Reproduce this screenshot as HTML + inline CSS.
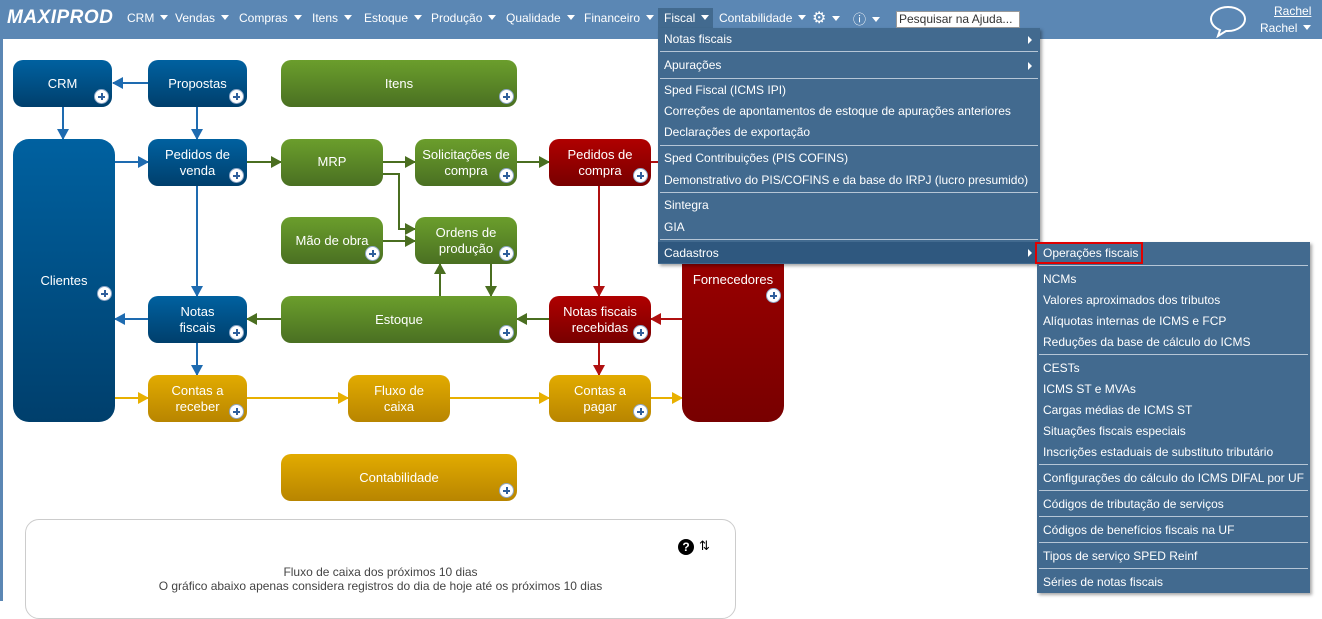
<!DOCTYPE html>
<html><head><meta charset="utf-8">
<style>
*{margin:0;padding:0;box-sizing:border-box}
body{width:1322px;height:601px;overflow:hidden;background:#fff;font-family:"Liberation Sans",sans-serif;position:relative}
.nav{position:absolute;left:0;top:0;width:1322px;height:39px;background:#5b87b4}
.strip{position:absolute;left:0;top:39px;width:3px;height:562px;background:#5b87b4}
.logo{position:absolute;left:7px;top:7px;color:#fff;font:italic bold 19px "Liberation Sans",sans-serif;letter-spacing:0.5px}
.ni{position:absolute;top:11px;color:#fff;font-size:12px;white-space:nowrap}
.ni:after{content:"";display:inline-block;margin-left:6px;border-left:4px solid transparent;border-right:4px solid transparent;border-top:5px solid #fff;vertical-align:2px}
.b{position:absolute;border-radius:10px;color:#fff;font-size:13px;text-align:center;display:flex;align-items:center;justify-content:center;line-height:16px}
.bl{background:linear-gradient(#0061a0,#003f6c)}
.gr{background:linear-gradient(#6b9e2c,#4a7022)}
.rd{background:linear-gradient(#b00000,#780000)}
.or{background:linear-gradient(#e2ab00,#b88500)}
.p{position:absolute;right:3px;bottom:3px;width:15px;height:15px;border-radius:50%;background:#fff;border:1px solid #8fa8c8}
.p:before{content:"";position:absolute;left:3px;top:6px;width:7px;height:2px;background:#2f5f9c}
.p:after{content:"";position:absolute;left:6px;top:3px;width:2px;height:7px;background:#2f5f9c}
.menu{position:absolute;background:#426a8f;box-shadow:2px 2px 3px rgba(0,0,0,.35)}
.mi{position:absolute;left:6px;color:#fff;font-size:12px;white-space:nowrap;line-height:16px}
.sep{position:absolute;left:2px;right:2px;height:1px;background:#b6c6d6}
.arr{position:absolute;right:8px;width:0;height:0;border-top:4px solid transparent;border-bottom:4px solid transparent;border-left:4px solid #fff}
</style></head><body>
<div class="nav"></div>
<div class="strip"></div>
<div class="logo">MAXIPROD</div>
<div class="ni" style="left:127px">CRM</div>
<div class="ni" style="left:175px">Vendas</div>
<div class="ni" style="left:239px">Compras</div>
<div class="ni" style="left:312px">Itens</div>
<div class="ni" style="left:364px">Estoque</div>
<div class="ni" style="left:431px">Produção</div>
<div class="ni" style="left:506px">Qualidade</div>
<div class="ni" style="left:584px">Financeiro</div>
<div style="position:absolute;left:658px;top:8px;width:55px;height:21px;background:#426a8f"></div>
<div class="ni" style="left:664px">Fiscal</div>
<div class="ni" style="left:719px">Contabilidade</div>
<div class="ni" style="left:812px;font-size:16px;top:8px">⚙</div>
<div class="ni" style="left:853px;font-size:13px;top:9px">ⓘ</div>
<div style="position:absolute;left:896px;top:11px;width:124px;height:17px;background:#fff;border:1px solid #999;font-size:12px;color:#333;padding-left:2px;line-height:15px">Pesquisar na Ajuda...</div>
<svg style="position:absolute;left:1208px;top:4px" width="40" height="34"><path d="M20 3C10 3 3 9 3 15c0 5 4 9 9 11l-2 6 8-5c1 0 2 0 2 0 10 0 17-6 17-12S30 3 20 3z" fill="none" stroke="#fff" stroke-width="2"/></svg>
<div style="position:absolute;left:1274px;top:4px;color:#fff;font-size:12px;text-decoration:underline">Rachel</div>
<div class="ni" style="left:1260px;top:21px">Rachel</div>

<svg style="position:absolute;left:0;top:0" width="1322" height="601">
<defs>
<marker id="mb" markerWidth="11" markerHeight="12" refX="10" refY="6" orient="auto" markerUnits="userSpaceOnUse"><path d="M0,0 L11,6 L0,12z" fill="#1e6bb0"/></marker>
<marker id="mg" markerWidth="11" markerHeight="12" refX="10" refY="6" orient="auto" markerUnits="userSpaceOnUse"><path d="M0,0 L11,6 L0,12z" fill="#4a6e20"/></marker>
<marker id="mr" markerWidth="11" markerHeight="12" refX="10" refY="6" orient="auto" markerUnits="userSpaceOnUse"><path d="M0,0 L11,6 L0,12z" fill="#b01010"/></marker>
<marker id="mo" markerWidth="11" markerHeight="12" refX="10" refY="6" orient="auto" markerUnits="userSpaceOnUse"><path d="M0,0 L11,6 L0,12z" fill="#e8b000"/></marker>
</defs>
<g stroke="#1e6bb0" stroke-width="2" fill="none" marker-end="url(#mb)">
<path d="M148 83H113"/><path d="M63 107V139"/><path d="M197 107V139"/><path d="M115 162H148"/><path d="M197 186V296"/><path d="M148 319H115"/><path d="M197 343V375"/>
</g>
<g stroke="#4a6e20" stroke-width="2" fill="none" marker-end="url(#mg)">
<path d="M247 162H281"/><path d="M383 162H415"/><path d="M517 162H549"/><path d="M383 174H399V229H415"/><path d="M383 241H415"/><path d="M440 296V264"/><path d="M491 264V296"/><path d="M281 319H247"/><path d="M549 319H517"/>
</g>
<g stroke="#b01010" stroke-width="2" fill="none">
<path d="M651 162H682"/>
<path d="M599 186V296" marker-end="url(#mr)"/><path d="M682 319H651" marker-end="url(#mr)"/><path d="M599 343V375" marker-end="url(#mr)"/>
</g>
<g stroke="#e8b000" stroke-width="2" fill="none" marker-end="url(#mo)">
<path d="M115 398H148"/><path d="M247 398H348"/><path d="M450 398H549"/><path d="M651 398H682"/>
</g>
</svg>

<div class="b bl" style="left:13px;top:60px;width:99px;height:47px">CRM<i class="p"></i></div>
<div class="b bl" style="left:148px;top:60px;width:99px;height:47px">Propostas<i class="p"></i></div>
<div class="b gr" style="left:281px;top:60px;width:236px;height:47px">Itens<i class="p"></i></div>
<div class="b bl" style="left:13px;top:139px;width:102px;height:283px;border-radius:16px">Clientes<i class="p" style="bottom:121px"></i></div>
<div class="b bl" style="left:148px;top:139px;width:99px;height:47px">Pedidos de<br>venda<i class="p"></i></div>
<div class="b gr" style="left:281px;top:139px;width:102px;height:47px;padding-bottom:2px">MRP</div>
<div class="b gr" style="left:415px;top:139px;width:102px;height:47px">Solicitações de<br>compra<i class="p"></i></div>
<div class="b rd" style="left:549px;top:139px;width:102px;height:47px">Pedidos de<br>compra<i class="p"></i></div>
<div class="b gr" style="left:281px;top:217px;width:102px;height:47px">Mão de obra<i class="p"></i></div>
<div class="b gr" style="left:415px;top:217px;width:102px;height:47px">Ordens de<br>produção<i class="p"></i></div>
<div class="b rd" style="left:682px;top:139px;width:102px;height:283px;border-radius:16px;align-items:flex-start;padding-top:133px">Fornecedores<i class="p" style="bottom:119px"></i></div>
<div class="b bl" style="left:148px;top:296px;width:99px;height:47px">Notas<br>fiscais<i class="p"></i></div>
<div class="b gr" style="left:281px;top:296px;width:236px;height:47px">Estoque<i class="p"></i></div>
<div class="b rd" style="left:549px;top:296px;width:102px;height:47px">Notas fiscais<br>recebidas<i class="p"></i></div>
<div class="b or" style="left:148px;top:375px;width:99px;height:47px">Contas a<br>receber<i class="p"></i></div>
<div class="b or" style="left:348px;top:375px;width:102px;height:47px">Fluxo de<br>caixa</div>
<div class="b or" style="left:549px;top:375px;width:102px;height:47px">Contas a<br>pagar<i class="p"></i></div>
<div class="b or" style="left:281px;top:454px;width:236px;height:47px">Contabilidade<i class="p"></i></div>

<div style="position:absolute;left:25px;top:519px;width:711px;height:100px;border:1px solid #ccc;border-radius:14px"></div>
<div style="position:absolute;left:678px;top:539px;width:16px;height:16px;border-radius:50%;background:#000;color:#fff;font:bold 12px/16px 'Liberation Sans',sans-serif;text-align:center">?</div>
<div style="position:absolute;left:699px;top:538px;font-size:13px;color:#000">⇅</div>
<div style="position:absolute;left:25px;top:565px;width:711px;text-align:center;color:#444;font-size:12px;line-height:14px">Fluxo de caixa dos próximos 10 dias<br>O gráfico abaixo apenas considera registros do dia de hoje até os próximos 10 dias</div>

<div class="menu" style="left:658px;top:28px;width:382px;height:236px">
<div class="mi" style="top:3px">Notas fiscais</div><i class="arr" style="top:8px"></i>
<div class="sep" style="top:23px"></div>
<div class="mi" style="top:29px">Apurações</div><i class="arr" style="top:34px"></i>
<div class="sep" style="top:50px"></div>
<div class="mi" style="top:54px">Sped Fiscal (ICMS IPI)</div>
<div class="mi" style="top:75px">Correções de apontamentos de estoque de apurações anteriores</div>
<div class="mi" style="top:96px">Declarações de exportação</div>
<div class="sep" style="top:117px"></div>
<div class="mi" style="top:122px">Sped Contribuições (PIS COFINS)</div>
<div class="mi" style="top:144px">Demonstrativo do PIS/COFINS e da base do IRPJ (lucro presumido)</div>
<div class="sep" style="top:164px"></div>
<div class="mi" style="top:169px">Sintegra</div>
<div class="mi" style="top:191px">GIA</div>
<div class="sep" style="top:211px"></div>
<div style="position:absolute;left:0;top:214px;width:382px;height:21px;background:#2f587f"></div>
<div class="mi" style="top:217px">Cadastros</div><i class="arr" style="top:221px"></i>
</div>

<div class="menu" style="left:1037px;top:242px;width:273px;height:351px">
<div class="sep" style="top:23px"></div>
<div class="mi" style="top:29px">NCMs</div>
<div class="mi" style="top:50px">Valores aproximados dos tributos</div>
<div class="mi" style="top:71px">Alíquotas internas de ICMS e FCP</div>
<div class="mi" style="top:92px">Reduções da base de cálculo do ICMS</div>
<div class="sep" style="top:112px"></div>
<div class="mi" style="top:118px">CESTs</div>
<div class="mi" style="top:139px">ICMS ST e MVAs</div>
<div class="mi" style="top:160px">Cargas médias de ICMS ST</div>
<div class="mi" style="top:181px">Situações fiscais especiais</div>
<div class="mi" style="top:202px">Inscrições estaduais de substituto tributário</div>
<div class="sep" style="top:222px"></div>
<div class="mi" style="top:228px">Configurações do cálculo do ICMS DIFAL por UF</div>
<div class="sep" style="top:248px"></div>
<div class="mi" style="top:254px">Códigos de tributação de serviços</div>
<div class="sep" style="top:274px"></div>
<div class="mi" style="top:280px">Códigos de benefícios fiscais na UF</div>
<div class="sep" style="top:300px"></div>
<div class="mi" style="top:306px">Tipos de serviço SPED Reinf</div>
<div class="sep" style="top:326px"></div>
<div class="mi" style="top:332px">Séries de notas fiscais</div>
</div>
<div style="position:absolute;left:1035px;top:242px;width:108px;height:22px;border:2px solid #e00000"></div>
<div class="mi" style="left:1043px;top:245px;position:absolute">Operações fiscais</div>
</body></html>
